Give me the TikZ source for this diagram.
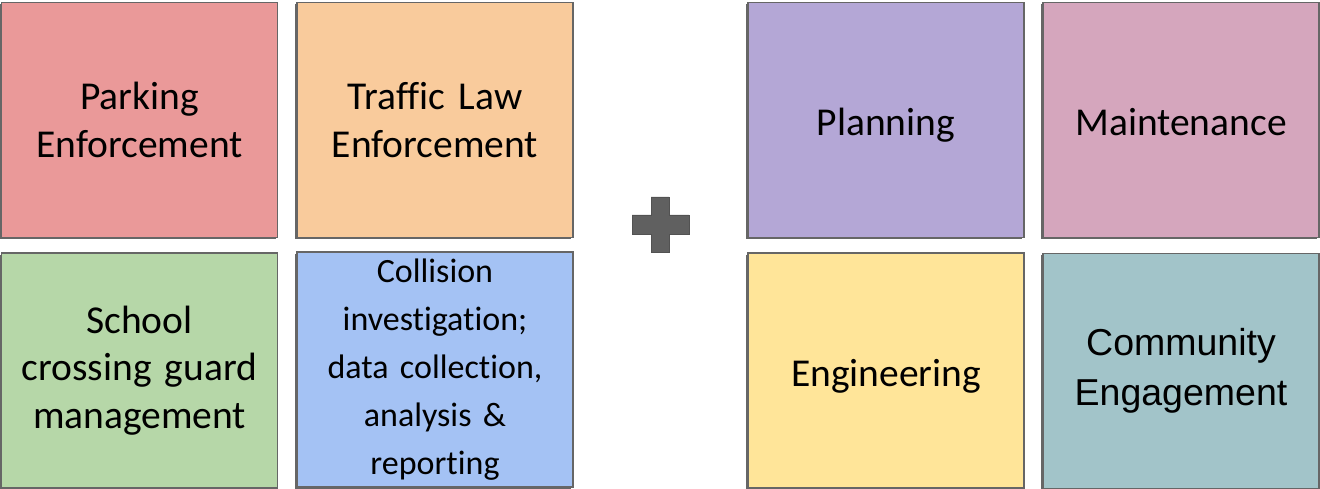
\documentclass[tikz,border=0pt]{standalone}
\usepackage{fontspec}
\setmainfont[Ligatures={NoCommon}]{Carlito}
\newfontfamily\arialish{Liberation Sans}
\usetikzlibrary{shadows}
\definecolor{cpark}{HTML}{EA9999}
\definecolor{ctraffic}{HTML}{F9CB9C}
\definecolor{cschool}{HTML}{B6D7A8}
\definecolor{ccoll}{HTML}{A4C2F4}
\definecolor{cplan}{HTML}{B4A7D6}
\definecolor{cmaint}{HTML}{D5A6BD}
\definecolor{ceng}{HTML}{FFE599}
\definecolor{ccomm}{HTML}{A2C4C9}
\definecolor{cedge}{HTML}{666666}
\definecolor{cplus}{HTML}{606060}
\tikzset{
  tile/.style={rectangle, draw=cedge, line width=1.2pt, minimum width=276pt, minimum height=235pt,
    inner sep=0pt, align=center, text width=266pt,
    drop shadow={shadow xshift=-1.6pt, shadow yshift=-1.6pt, fill=cedge, opacity=1},
    font=\fontsize{39.5}{47.5}\selectfont},
  small/.style={font=\fontsize{34}{48}\selectfont},
  sans/.style={font=\arialish\fontsize{37.5}{50}\selectfont},
  % single-line labels: baseline about 15.5pt below the tile centre
  oneline/.style={text height=36pt, text depth=5pt},
}
\begin{document}
\begin{tikzpicture}[x=1pt,y=-1pt]
\useasboundingbox (0,0) rectangle (1320,489);
% left group
\node[tile, fill=cpark] (park) at (139.5,120) {Parking\\Enforcement};
\node[tile, fill=ctraffic] (traffic) at (435,120) {Traffic Law\\Enforcement};
\node[tile, fill=cschool] (school) at (139.5,370.5) {School\\crossing guard\\management};
\node[tile, fill=ccoll, small] (coll) at (435,369.5) {Collision\\investigation;\\data collection,\\analysis \&\\reporting};
% plus sign
\draw[fill=cplus, draw=cplus!85!black, line width=0.8pt]
  (651,197) -- (669,197) -- (669,215) -- (689,215) -- (689,234) -- (669,234)
  -- (669,252) -- (651,252) -- (651,234) -- (632,234) -- (632,215) -- (651,215) -- cycle;
% right group
\node[tile, oneline, fill=cplan] (plan) at (886,120) {Planning};
\node[tile, oneline, fill=cmaint] (maint) at (1181,120) {Maintenance};
\node[tile, oneline, fill=ceng] (eng) at (886,370.5) {Engineering};
\node[tile, fill=ccomm, sans] (comm) at (1181,371) {Community\\Engagement};
\end{tikzpicture}
\end{document}
